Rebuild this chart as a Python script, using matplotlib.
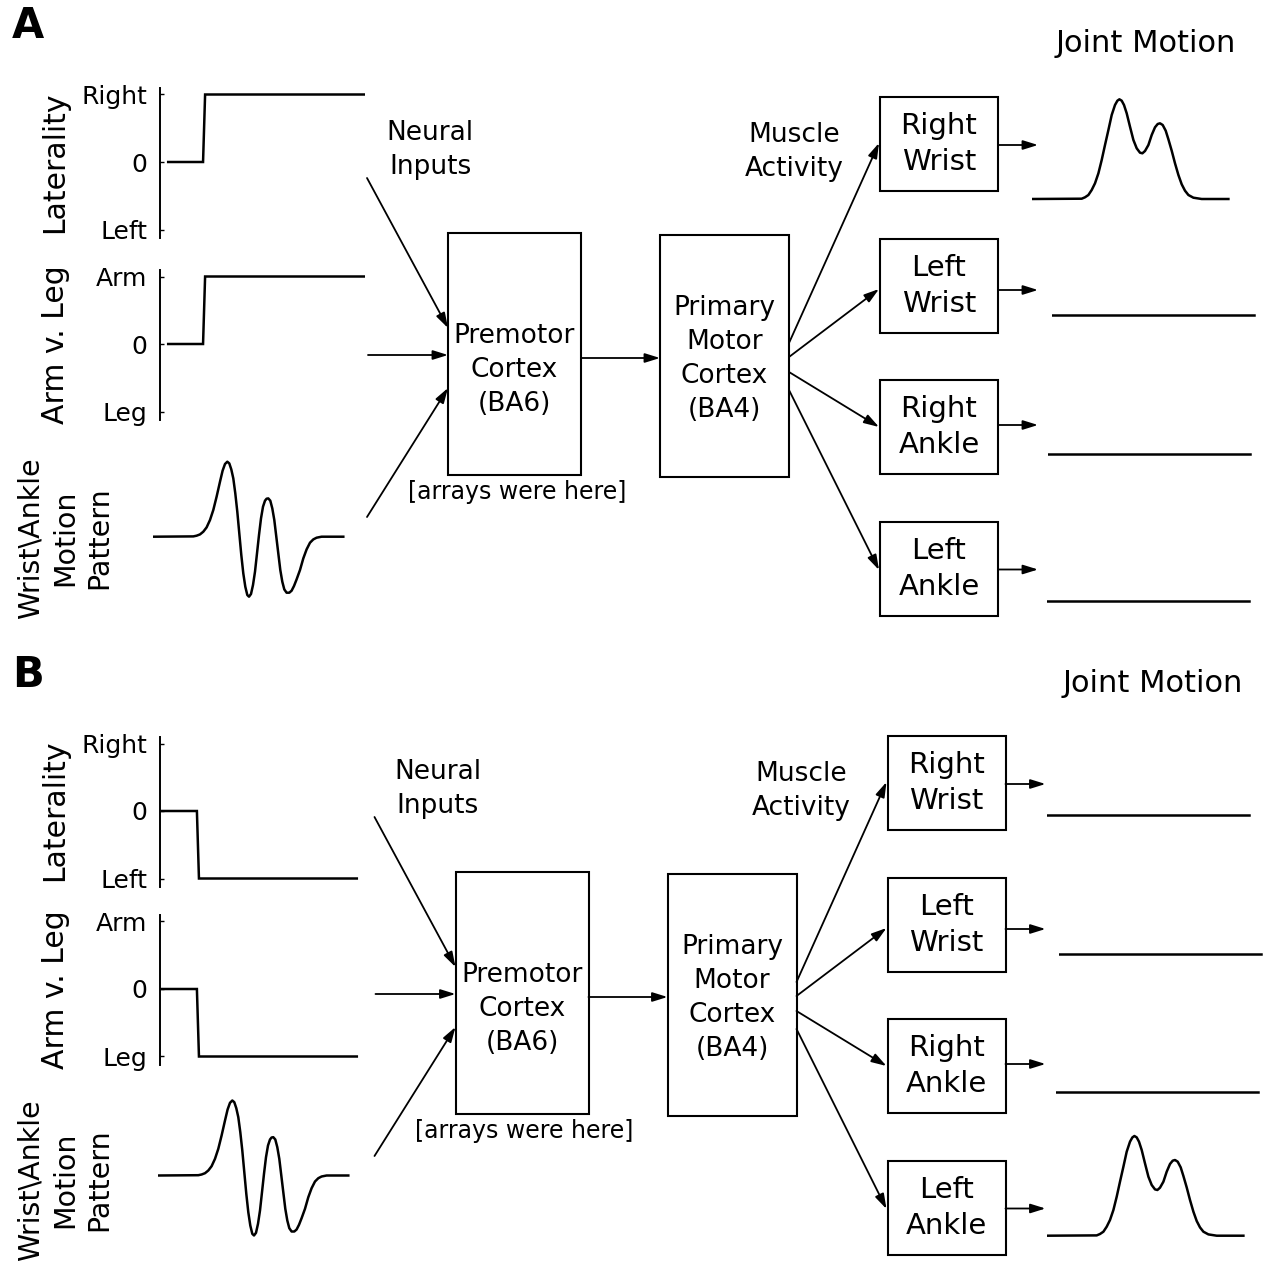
import matplotlib.pyplot as plt
from matplotlib.patches import Rectangle

W, H = 1269, 1271

# step inputs (time 0..1, level -1/0/+1)
lat_t_a = [0.04, 0.21, 0.22, 1.0]
lat_v_a = [0, 0, 1, 1]
arm_t_a = [0.04, 0.21, 0.22, 1.0]
arm_v_a = [0, 0, 1, 1]
lat_t_b = [0.0, 0.18, 0.19, 0.96]
lat_v_b = [0, 0, -1, -1]
arm_t_b = [0.0, 0.18, 0.19, 0.96]
arm_v_b = [0, 0, -1, -1]
lat_labels = ['Left', '0', 'Right']
arm_labels = ['Leg', '0', 'Arm']

# wrist/ankle motion pattern
wave_t = [0, 40, 43.3, 46.7, 50, 53.3, 56.7, 60, 63.3, 66.7, 69.3, 71.7, 74, 76, 78, 80,
          82, 84, 86, 88, 90, 92, 94, 95.7, 97.7, 99.7, 101.7, 103.7, 105.7, 107.7,
          109.7, 111.7, 113.3, 115, 117, 119, 121, 123, 125, 127, 129, 131, 133.3,
          136, 138.3, 140.7, 143.3, 146.7, 150, 153.3, 156.7, 160, 163.3, 168.3, 190]
wave_v = [0, 0.3, 1, 2.3, 5, 9.3, 16.7, 26.7, 40, 55, 66, 72.7, 75, 73.3, 67.3, 58.3,
          43.3, 25, 3.3, -18.3, -36.7, -50, -58.3, -60, -57.3, -48.3, -35, -16.7, 1.7, 18.3,
          30, 36, 38, 38.3, 36, 28.3, 16.7, 0, -16.7, -33.3, -45, -52.7, -56,
          -56, -54, -49.3, -42.7, -33.3, -21.7, -12.7, -6, -2.7, -1, 0, 0]

# joint motion output
joint_t = [0, 50, 53.3, 56.7, 60, 63.3, 66.7, 70, 73.3, 76.7, 80, 83.3, 85.7, 87.7, 90,
           92.3, 95, 98.3, 101.7, 105, 108.3, 110.7, 113.3, 116.7, 120, 123.3, 126,
           128.3, 131, 134, 136.7, 140, 143.3, 146.7, 150, 153.3, 156.7, 161.7, 170, 196.7]
joint_v = [0, 0.3, 1.7, 4, 9, 15.7, 25.7, 39, 54, 69, 84, 94, 98.3, 99.7, 98.3,
           94, 85.7, 72.3, 59, 50.7, 46.3, 45.7, 48, 54, 64, 71.7, 75,
           75.7, 74, 68.3, 59.7, 48.3, 35.7, 24, 14.7, 8.3, 4, 1.3, 0, 0]
flat_t = [0, 202]
flat_v = [0, 0]

joint_names = ['Right\nWrist', 'Left\nWrist', 'Right\nAnkle', 'Left\nAnkle']

fig = plt.figure(figsize=(W / 100, H / 100), dpi=100)


def rect(left, top, width, height):
    return [left / W, 1 - (top + height) / H, width / W, height / H]


def clean(ax):
    for s in ax.spines.values():
        s.set_visible(False)
    ax.set_xticks([])
    ax.set_yticks([])
    ax.patch.set_alpha(0)


def step_plot(left, zero_y, width, t, v, labels):
    unit = 67.5
    top = zero_y - 1.096 * unit
    ax = fig.add_axes(rect(left, top, width, 2.222 * unit))
    ax.plot(t, v, color='black', lw=1.8, solid_joinstyle='miter')
    ax.set_xlim(0, 1)
    ax.set_ylim(-1.126, 1.096)
    clean(ax)
    ax.spines['left'].set_visible(True)
    ax.spines['left'].set_linewidth(1.4)
    ax.set_yticks([-1, 0, 1])
    ax.set_yticklabels(labels, fontsize=18)
    ax.tick_params(axis='y', direction='in', length=3, width=1, pad=9)


def wave_plot(left, base_y, t, v, width=195):
    ax = fig.add_axes(rect(left, base_y - 85, width, 160))
    ax.plot(t, v, color='black', lw=1.8)
    ax.set_xlim(0, width)
    ax.set_ylim(-75, 85)
    clean(ax)


def joint_plot(left, base_y, t, v):
    ax = fig.add_axes(rect(left, base_y - 112, 210, 127))
    ax.plot(t, v, color='black', lw=1.8)
    ax.set_xlim(0, 210)
    ax.set_ylim(-15, 112)
    clean(ax)


main = fig.add_axes([0, 0, 1, 1])
main.set_xlim(0, W)
main.set_ylim(H, 0)
main.axis('off')
main.patch.set_alpha(0)

arrow_kw = dict(arrowstyle='-|>,head_length=0.9,head_width=0.28', color='black',
                lw=1.3, shrinkA=0, shrinkB=0)
LS = 1.4


def arrow(x0, y0, x1, y1):
    main.annotate('', xy=(x1, y1), xytext=(x0, y0), arrowprops=arrow_kw)


def box(x0, y0, x1, y1, label, size, text_dy=0):
    main.add_patch(Rectangle((x0, y0), x1 - x0, y1 - y0, fill=False, lw=1.5, ec='black'))
    main.text((x0 + x1) / 2, (y0 + y1) / 2 + text_dy, label, ha='center', va='center',
              fontsize=size, linespacing=LS)


def diagram(dx, dy, letter, letter_y, joint_title_x):
    main.text(28, letter_y, letter, fontsize=30, fontweight='bold',
              ha='center', va='center')
    main.text(joint_title_x, 44 + dy, 'Joint Motion', fontsize=22, ha='center', va='center')
    main.text(430 + dx, 150 + dy, 'Neural\nInputs', fontsize=19, ha='center', va='center',
              linespacing=LS)
    main.text(794 + dx, 152 + dy, 'Muscle\nActivity', fontsize=19, ha='center', va='center',
              linespacing=LS)
    box(448 + dx, 233 + dy, 581 + dx, 475 + dy, 'Premotor\nCortex\n(BA6)', 19, text_dy=16)
    box(660 + dx, 235 + dy, 789 + dx, 477 + dy, 'Primary\nMotor\nCortex\n(BA4)', 19,
        text_dy=3)
    main.text(517 + dx, 492 + dy, '[arrays were here]', fontsize=17, ha='center', va='center')
    arrow(367 + dx, 178 + dy, 448 + dx, 328 + dy)
    arrow(368 + dx, 355 + dy, 448 + dx, 355 + dy)
    arrow(367 + dx, 517 + dy, 448 + dx, 388 + dy)
    arrow(581 + dx, 358 + dy, 660 + dx, 358 + dy)
    tops = [97, 239, 380, 522]
    starts = [343, 357, 372, 390]
    tips = [143, 289, 427, 570]
    outs = [145, 290, 425, 569.5]
    for name, top, s, tip, o in zip(joint_names, tops, starts, tips, outs):
        box(880 + dx, top + dy, 998 + dx, top + 94 + dy, name, 21)
        arrow(789 + dx, s + dy, 879 + dx, tip + dy)
        arrow(998 + dx, o + dy, 1038 + dx, o + dy)


# panel A
diagram(0, 0, 'A', 26, 1146)
main.text(55, 162, 'Laterality', fontsize=21.5, rotation=90, ha='center', va='center')
main.text(55, 345, 'Arm v. Leg', fontsize=21.5, rotation=90, ha='center', va='center')
main.text(65, 538, 'Wrist\\Ankle\nMotion\nPattern', fontsize=20.5, rotation=90,
          ha='center', va='center', linespacing=1.28)
step_plot(160, 162, 205, lat_t_a, lat_v_a, lat_labels)
step_plot(160, 344, 205, arm_t_a, arm_v_a, arm_labels)
wave_plot(153.3, 536.7, wave_t, wave_v)
joint_plot(1031.7, 199, joint_t, joint_v)
joint_plot(1051.7, 315, flat_t, flat_v)
joint_plot(1048.3, 454, flat_t, flat_v)
joint_plot(1047.3, 601, flat_t, flat_v)

# panel B
diagram(7.5, 639, 'B', 675, 1153)
main.text(55, 810, 'Laterality', fontsize=21.5, rotation=90, ha='center', va='center')
main.text(55, 990, 'Arm v. Leg', fontsize=21.5, rotation=90, ha='center', va='center')
main.text(65, 1180, 'Wrist\\Ankle\nMotion\nPattern', fontsize=20.5, rotation=90,
          ha='center', va='center', linespacing=1.28)
step_plot(160, 811, 205, lat_t_b, lat_v_b, lat_labels)
step_plot(160, 989, 205, arm_t_b, arm_v_b, arm_labels)
wave_plot(158.3, 1175.5, wave_t, wave_v)
joint_plot(1047, 815, flat_t, flat_v)
joint_plot(1059, 954, flat_t, flat_v)
joint_plot(1056, 1092, flat_t, flat_v)
joint_plot(1046.7, 1235.7, joint_t, joint_v)

fig.savefig('out.png', dpi=100)
